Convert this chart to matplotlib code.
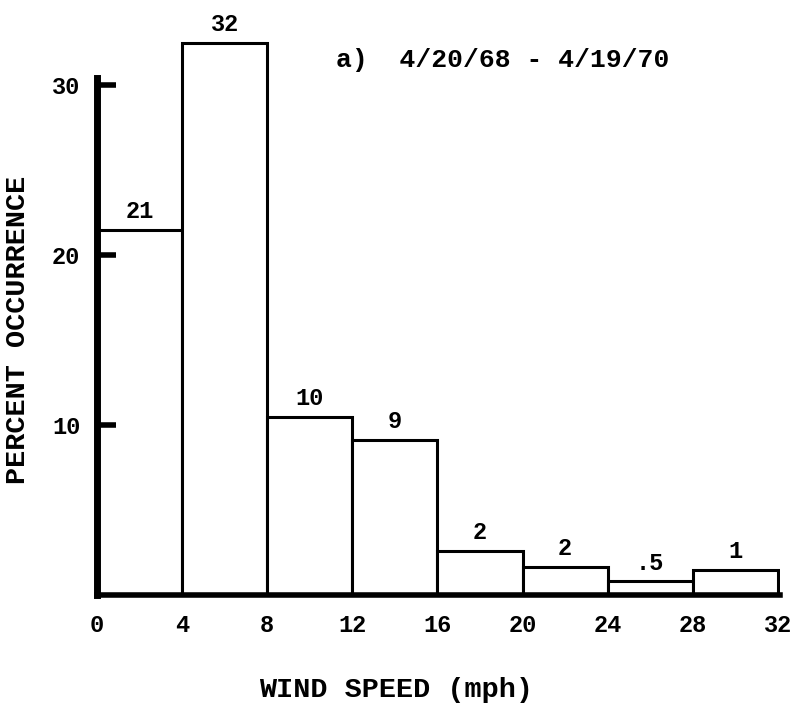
import matplotlib
matplotlib.use("Agg")
import matplotlib.pyplot as plt

bin_edges = [0, 4, 8, 12, 16, 20, 24, 28, 32]
heights = [21.5, 32.5, 10.5, 9.1, 2.6, 1.65, 0.8, 1.5]
bar_labels = ["21", "32", "10", "9", "2", "2", ".5", "1"]
xticks = [0, 4, 8, 12, 16, 20, 24, 28, 32]
yticks = [10, 20, 30]
title_text = "a)  4/20/68 - 4/19/70"

font = "Liberation Mono"
fig = plt.figure(figsize=(7.93, 7.05), dpi=100)
ax = fig.add_axes([97/793, 110/705, (780-97)/793, (595-17)/705])

lefts = bin_edges[:-1]
widths = [bin_edges[i+1]-bin_edges[i] for i in range(len(lefts))]
ax.bar(lefts, heights, width=widths, align="edge", facecolor="white",
       edgecolor="black", linewidth=2.2)

for l, w, h, t in zip(lefts, widths, heights, bar_labels):
    ax.text(l + w/2, h + 0.4, t, ha="center", va="bottom", fontsize=17,
            family=font, fontweight="bold")

ax.set_xlim(0, 32.1)
ax.set_ylim(0, 34)
for s in ["top", "right"]:
    ax.spines[s].set_visible(False)
ax.spines["left"].set_linewidth(5)
ax.spines["bottom"].set_linewidth(4)
ax.spines["left"].set_bounds(0, 30.4)

ax.set_yticks(yticks)
ax.set_yticklabels([str(v) for v in yticks], family=font, fontsize=17, fontweight="bold")
ax.tick_params(axis="y", direction="in", length=14, width=4, pad=12)
ax.set_xticks(xticks)
ax.set_xticklabels([str(v) for v in xticks], family=font, fontsize=17, fontweight="bold")
ax.tick_params(axis="x", length=0, pad=14)

fig.text(396/793, 1 - 690/705, "WIND SPEED (mph)", family=font, fontsize=20.5,
         fontweight="bold", ha="center", va="center")
fig.text(18/793, 1 - 330/705, "PERCENT OCCURRENCE", family=font, fontsize=20.5,
         fontweight="bold", ha="center", va="center", rotation=90)

ax.text(0.35, 0.925, title_text, transform=ax.transAxes, family=font,
        fontsize=19, fontweight="bold", ha="left", va="center")

fig.savefig("out.png", dpi=100)
